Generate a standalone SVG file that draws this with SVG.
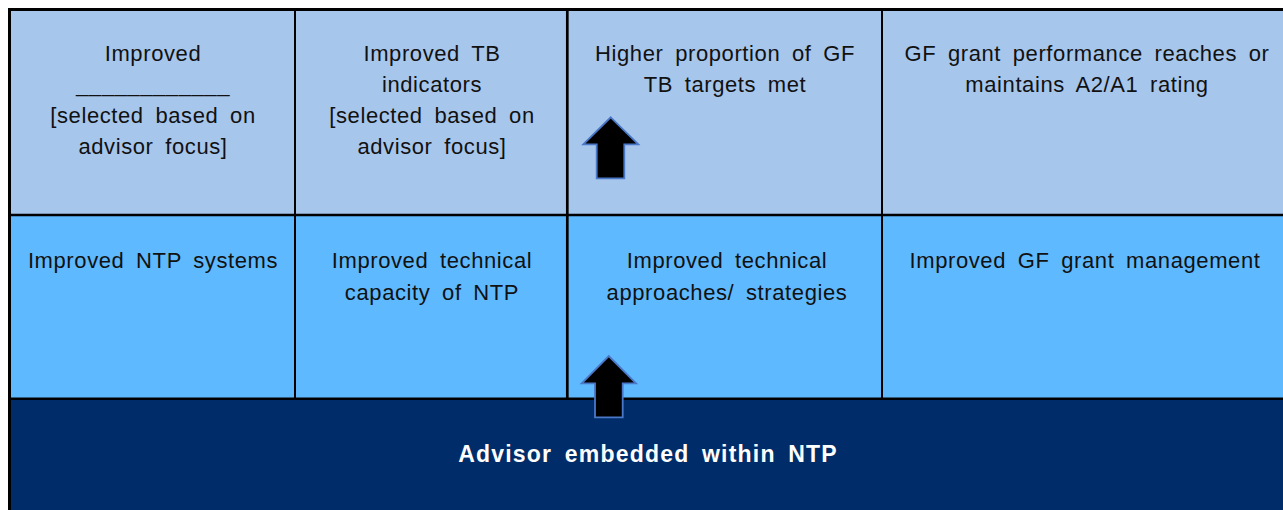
<svg xmlns="http://www.w3.org/2000/svg" width="1283" height="510" viewBox="0 0 1283 510">
<style>
.t{font-family:"Liberation Sans",Arial,sans-serif;font-size:22px;fill:#111;text-anchor:middle;letter-spacing:0.6px;word-spacing:5px}
.b{font-family:"Liberation Sans",Arial,sans-serif;font-size:23px;font-weight:bold;fill:#fff;text-anchor:middle;letter-spacing:1.2px;word-spacing:5px}
.top{fill:#A7C6EC}
.mid{fill:#5FB9FF}
.grid{stroke:#000;fill:none}
.arrow{fill:#000;stroke:#4A78C8;stroke-width:1.8}
</style>
<rect width="1283" height="510" fill="#fff"/>
<g id="out1">
<rect class="top" x="10" y="10" width="285" height="205"/>
<text class="t" x="153" y="61">Improved</text>
<text class="t" x="153" y="92">____________</text>
<text class="t" x="153" y="123">[selected based on</text>
<text class="t" x="153" y="154">advisor focus]</text>
</g>
<g id="out2">
<rect class="top" x="295" y="10" width="272" height="205"/>
<text class="t" x="432" y="61">Improved TB</text>
<text class="t" x="432" y="92">indicators</text>
<text class="t" x="432" y="123">[selected based on</text>
<text class="t" x="432" y="154">advisor focus]</text>
</g>
<g id="out3">
<rect class="top" x="567" y="10" width="315" height="205"/>
<text class="t" x="725" y="61">Higher proportion of GF</text>
<text class="t" x="725" y="92">TB targets met</text>
</g>
<g id="out4">
<rect class="top" x="882" y="10" width="401" height="205"/>
<text class="t" x="1087" y="61">GF grant performance reaches or</text>
<text class="t" x="1087" y="92">maintains A2/A1 rating</text>
</g>
<g id="mid1">
<rect class="mid" x="10" y="215" width="285" height="184"/>
<text class="t" x="153" y="268">Improved NTP systems</text>
</g>
<g id="mid2">
<rect class="mid" x="295" y="215" width="272" height="184"/>
<text class="t" x="432" y="268">Improved technical</text>
<text class="t" x="432" y="300">capacity of NTP</text>
</g>
<g id="mid3">
<rect class="mid" x="567" y="215" width="315" height="184"/>
<text class="t" x="727" y="268">Improved technical</text>
<text class="t" x="727" y="300">approaches/ strategies</text>
</g>
<g id="mid4">
<rect class="mid" x="882" y="215" width="401" height="184"/>
<text class="t" x="1085" y="268">Improved GF grant management</text>
</g>
<g id="base">
<rect x="10" y="399" width="1273" height="111" fill="#002D69"/>
<text class="b" x="648" y="462">Advisor embedded within NTP</text>
</g>
<g id="gridlines">
<line class="grid" x1="8" y1="9.5" x2="1283" y2="9.5" stroke-width="3"/>
<line class="grid" x1="9.5" y1="8" x2="9.5" y2="510" stroke-width="3"/>
<line class="grid" x1="295" y1="9" x2="295" y2="399" stroke-width="2"/>
<line class="grid" x1="567.3" y1="9" x2="567.3" y2="399" stroke-width="2.7"/>
<line class="grid" x1="882" y1="9" x2="882" y2="399" stroke-width="2"/>
<line class="grid" x1="9" y1="215" x2="1283" y2="215" stroke-width="2.5"/>
<line class="grid" x1="9" y1="398.7" x2="1283" y2="398.7" stroke-width="2.5"/>
</g>
<g id="connectors">
<polygon class="arrow" points="610.7,117.3 638.3,144.3 624.3,144.3 624.3,178.3 596.7,178.3 596.7,144.3 583.3,144.3"/>
<polygon class="arrow" points="608.7,356 636,383.3 622.7,383.3 622.7,417.3 595,417.3 595,383.3 581.7,383.3"/>
</g>
</svg>
